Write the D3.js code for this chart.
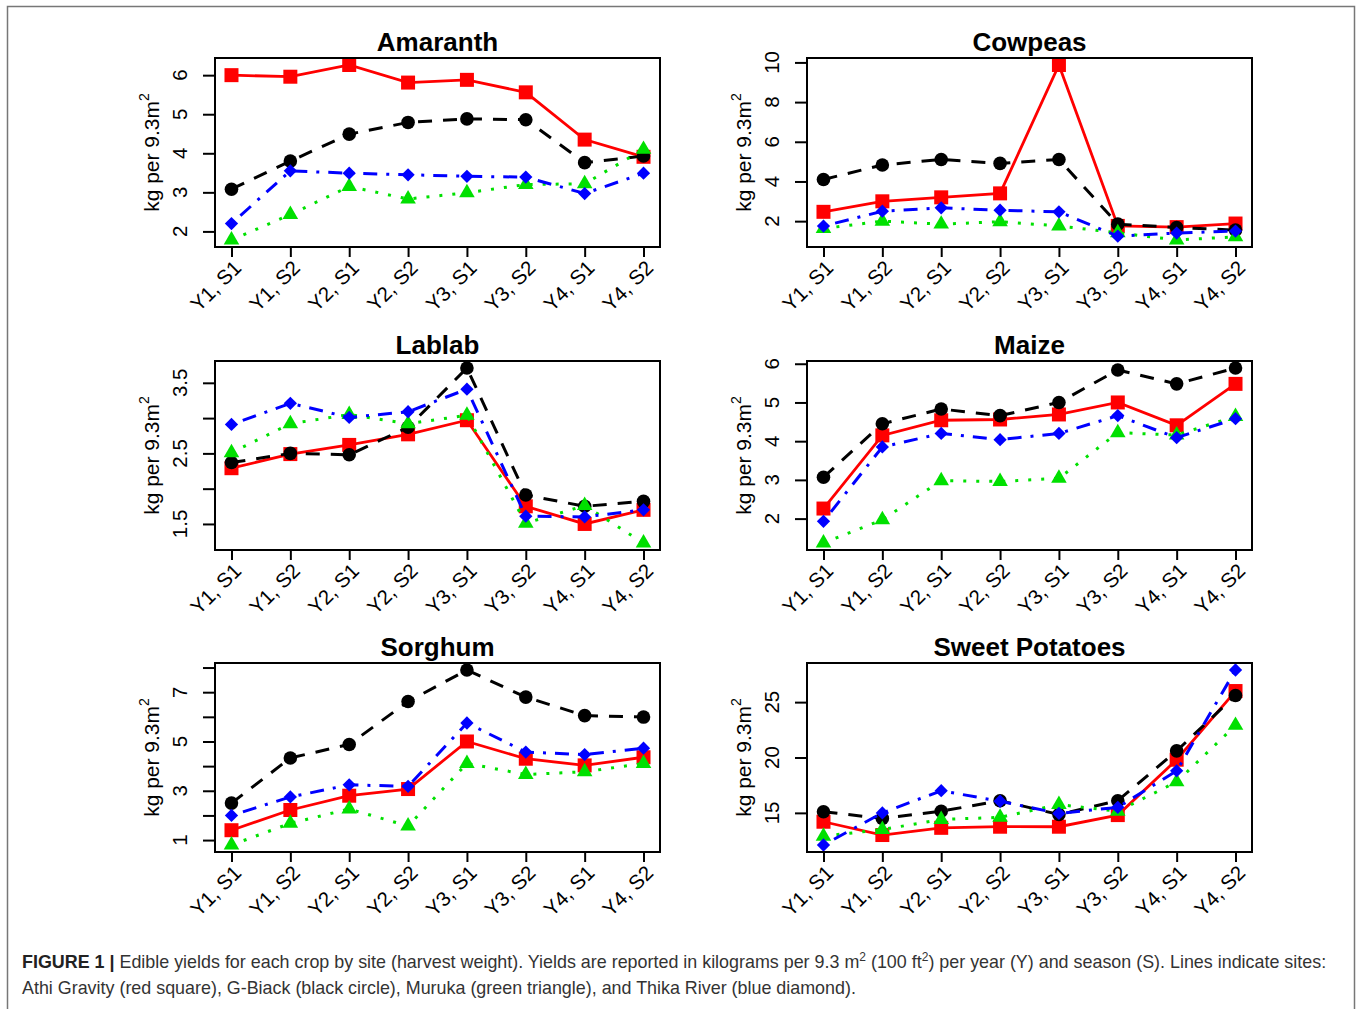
<!DOCTYPE html>
<html>
<head>
<meta charset="utf-8">
<script src="https://cdn.jsdelivr.net/npm/d3@7"></script>
<style>
  body { margin: 0; background: #fff; }
  text { font-family: "Liberation Sans", Arial, sans-serif; }
</style>
</head>
<body>
<div id="chart"></div>
<script>
// x categories (year, season)
const periods = ['Y1, S1', 'Y1, S2', 'Y2, S1', 'Y2, S2', 'Y3, S1', 'Y3, S2', 'Y4, S1', 'Y4, S2'];
const crops = ['Amaranth', 'Cowpeas', 'Lablab', 'Maize', 'Sorghum', 'Sweet Potatoes'];

// one row per crop, same order as crops
const athiGravity = [
  [6.00, 5.96, 6.26, 5.81, 5.88, 5.56, 4.35, 3.91],
  [2.47, 3.00, 3.20, 3.40, 9.87, 1.76, 1.70, 1.88],
  [2.29, 2.49, 2.62, 2.77, 2.97, 1.75, 1.50, 1.70],
  [2.26, 4.15, 4.54, 4.56, 4.69, 5.00, 4.41, 5.48],
  [1.40, 2.22, 2.80, 3.07, 5.00, 4.30, 4.03, 4.36],
  [14.2, 13.0, 13.65, 13.75, 13.75, 14.8, 19.8, 26.0]
];
const gBiack = [
  [3.08, 3.80, 4.49, 4.79, 4.88, 4.86, 3.76, 3.93],
  [4.10, 4.83, 5.11, 4.91, 5.11, 1.85, 1.68, 1.55],
  [2.37, 2.50, 2.48, 2.87, 3.71, 1.91, 1.75, 1.82],
  [3.07, 4.45, 4.83, 4.66, 5.00, 5.84, 5.48, 5.89],
  [2.50, 4.33, 4.88, 6.62, 7.90, 6.80, 6.05, 5.99],
  [15.1, 14.5, 15.15, 16.1, 14.85, 16.1, 20.6, 25.6]
];
const muruka = [
  [1.78, 2.43, 3.15, 2.83, 2.99, 3.20, 3.22, 4.10],
  [1.63, 2.00, 1.85, 1.97, 1.76, 1.41, 1.05, 1.21],
  [2.51, 2.92, 3.05, 2.92, 3.04, 1.51, 1.76, 1.23],
  [1.37, 1.97, 2.98, 2.96, 3.04, 4.22, 4.16, 4.64],
  [0.80, 1.68, 2.26, 1.57, 4.11, 3.66, 3.77, 4.11],
  [12.9, 13.5, 14.4, 14.6, 15.75, 15.15, 17.8, 22.9]
];
const thikaRiver = [
  [2.20, 3.55, 3.49, 3.45, 3.41, 3.39, 2.97, 3.49],
  [1.75, 2.50, 2.67, 2.55, 2.47, 1.24, 1.40, 1.50],
  [2.91, 3.21, 3.01, 3.09, 3.41, 1.61, 1.60, 1.70],
  [1.93, 3.85, 4.20, 4.04, 4.20, 4.66, 4.09, 4.58],
  [2.00, 2.75, 3.24, 3.18, 5.75, 4.57, 4.47, 4.73],
  [12.1, 15.0, 17.0, 16.05, 14.95, 15.5, 18.8, 27.9]
];

const sites = [
  { name: 'Athi Gravity', values: athiGravity, color: '#ff0000', dash: null, width: 2.8, symbol: 'square' },
  { name: 'G-Biack', values: gBiack, color: '#000000', dash: '14,11', width: 3, symbol: 'circle' },
  { name: 'Muruka', values: muruka, color: '#00e000', dash: '3,10', width: 3, symbol: 'triangle' },
  { name: 'Thika River', values: thikaRiver, color: '#0000ff', dash: '3,9,14,9', width: 3, symbol: 'diamond' }
];

// layout
const width = 1357;
const height = 1009;
const colX = [215, 807];
const rowY = [58, 361, 663];
const boxW = 445;
const boxH = 189;
const tickFont = 20.5;

const svg = d3.select('#chart')
  .append('svg')
  .attr('width', width)
  .attr('height', height);

svg.append('rect')
  .attr('x', 7.5)
  .attr('y', 6.5)
  .attr('width', 1347)
  .attr('height', 1100)
  .attr('fill', 'white')
  .attr('stroke', '#777')
  .attr('stroke-width', 1.5);

// R pretty() step, the way axis() picks it
function prettyStep(lo, hi) {
  const cell = (hi - lo) / 5;
  const U = Math.pow(10, Math.floor(Math.log10(cell)));
  let unit = U;
  if (2 * U - cell < 0.8 * (cell - unit)) {
    unit = 2 * U;
    if (5 * U - cell < 1.7 * (cell - unit)) {
      unit = 5 * U;
      if (10 * U - cell < 0.8 * (cell - unit)) unit = 10 * U;
    }
  }
  return unit;
}

function symbolPath(kind) {
  if (kind === 'square') return d3.symbol(d3.symbolSquare, 196)();
  if (kind === 'circle') return d3.symbol(d3.symbolCircle, 145)();
  if (kind === 'triangle') return d3.symbol(d3.symbolTriangle, 105)();
  return d3.symbol(d3.symbolSquare, 88)();
}

crops.forEach((crop, i) => {
  const x0 = colX[i % 2];
  const y0 = rowY[Math.floor(i / 2)];
  const g = svg.append('g')
    .attr('class', 'panel')
    .attr('transform', `translate(${x0},${y0})`);

  const all = sites.flatMap(s => s.values[i]);
  const [lo, hi] = d3.extent(all);
  const pad = (hi - lo) * 0.04;

  const x = d3.scalePoint()
    .domain(periods)
    .range([0, boxW])
    .padding(0.28);

  const y = d3.scaleLinear()
    .domain([lo - pad, hi + pad])
    .range([boxH, 0]);

  // y ticks
  const step = prettyStep(lo - pad, hi + pad);
  const yTicks = d3.range(Math.ceil((lo - pad) / step) * step, hi + pad + 1e-9, step);

  const yAxis = g.append('g')
    .attr('class', 'y axis')
    .call(d3.axisLeft(y).tickValues(yTicks).tickSize(12).tickFormat(''));
  yAxis.select('.domain').remove();
  yAxis.selectAll('line').attr('stroke', '#000').attr('stroke-width', 2);

  // labels, skip the ones that would touch (like R does)
  let lastPos = null;
  let lastHalf = 0;
  yTicks.forEach((t) => {
    const label = d3.format('~g')(t);
    const pos = y(t);
    const txt = g.append('text')
      .attr('transform', `translate(-28,${pos}) rotate(-90)`)
      .attr('text-anchor', 'middle')
      .attr('font-size', tickFont)
      .attr('fill', '#000')
      .text(label);
    const half = txt.node().getComputedTextLength() / 2;
    if (lastPos !== null && Math.abs(lastPos - pos) < lastHalf + half + 16) {
      txt.remove();
    } else {
      lastPos = pos;
      lastHalf = half;
    }
  });

  // x ticks
  const xAxis = g.append('g')
    .attr('class', 'x axis')
    .attr('transform', `translate(0,${boxH})`)
    .call(d3.axisBottom(x).tickSize(10).tickFormat(''));
  xAxis.select('.domain').remove();
  xAxis.selectAll('line').attr('stroke', '#000').attr('stroke-width', 2);

  g.selectAll('.xlabel')
    .data(periods)
    .enter()
    .append('text')
    .attr('class', 'xlabel')
    .attr('transform', d => `translate(${x(d) + 6},${boxH + 17}) rotate(-45)`)
    .attr('text-anchor', 'end')
    .attr('dy', '0.35em')
    .attr('font-size', tickFont)
    .attr('fill', '#000')
    .text(d => d);

  // series
  const line = d3.line()
    .x((d, k) => x(periods[k]))
    .y(d => y(d));

  sites.forEach((s) => {
    const vals = s.values[i];
    g.append('path')
      .datum(vals)
      .attr('d', line)
      .attr('fill', 'none')
      .attr('stroke', s.color)
      .attr('stroke-width', s.width)
      .attr('stroke-dasharray', s.dash);

    g.selectAll(null)
      .data(vals)
      .enter()
      .append('path')
      .attr('d', symbolPath(s.symbol))
      .attr('transform', (d, k) => `translate(${x(periods[k])},${y(d)})` + (s.symbol === 'diamond' ? ' rotate(45)' : ''))
      .attr('fill', s.color);
  });

  // frame
  g.append('rect')
    .attr('width', boxW)
    .attr('height', boxH)
    .attr('fill', 'none')
    .attr('stroke', '#000')
    .attr('stroke-width', 2);

  // title
  g.append('text')
    .attr('x', boxW / 2)
    .attr('y', -7)
    .attr('text-anchor', 'middle')
    .attr('font-size', 26)
    .attr('font-weight', 'bold')
    .attr('fill', '#000')
    .text(crop);

  // y label
  const ylab = g.append('text')
    .attr('transform', `translate(-56,${boxH / 2}) rotate(-90)`)
    .attr('text-anchor', 'middle')
    .attr('font-size', 21)
    .attr('fill', '#000');
  ylab.append('tspan').text('kg per 9.3m');
  ylab.append('tspan')
    .attr('font-size', 14)
    .attr('dy', -10)
    .text('2');
});

// caption
const captionSize = 17.9;
const cap1 = svg.append('text')
  .attr('x', 22)
  .attr('y', 968)
  .attr('font-size', captionSize)
  .attr('fill', '#333');
cap1.append('tspan').attr('font-weight', 'bold').attr('fill', '#222').text('FIGURE 1 | ');
cap1.append('tspan').text('Edible yields for each crop by site (harvest weight). Yields are reported in kilograms per 9.3 m');
cap1.append('tspan').attr('font-size', 12).attr('dy', -7).text('2');
cap1.append('tspan').attr('dy', 7).text(' (100 ft');
cap1.append('tspan').attr('font-size', 12).attr('dy', -7).text('2');
cap1.append('tspan').attr('dy', 7).text(') per year (Y) and season (S). Lines indicate sites:');

svg.append('text')
  .attr('x', 22)
  .attr('y', 994)
  .attr('font-size', captionSize)
  .attr('fill', '#333')
  .text('Athi Gravity (red square), G-Biack (black circle), Muruka (green triangle), and Thika River (blue diamond).');
</script>
</body>
</html>
